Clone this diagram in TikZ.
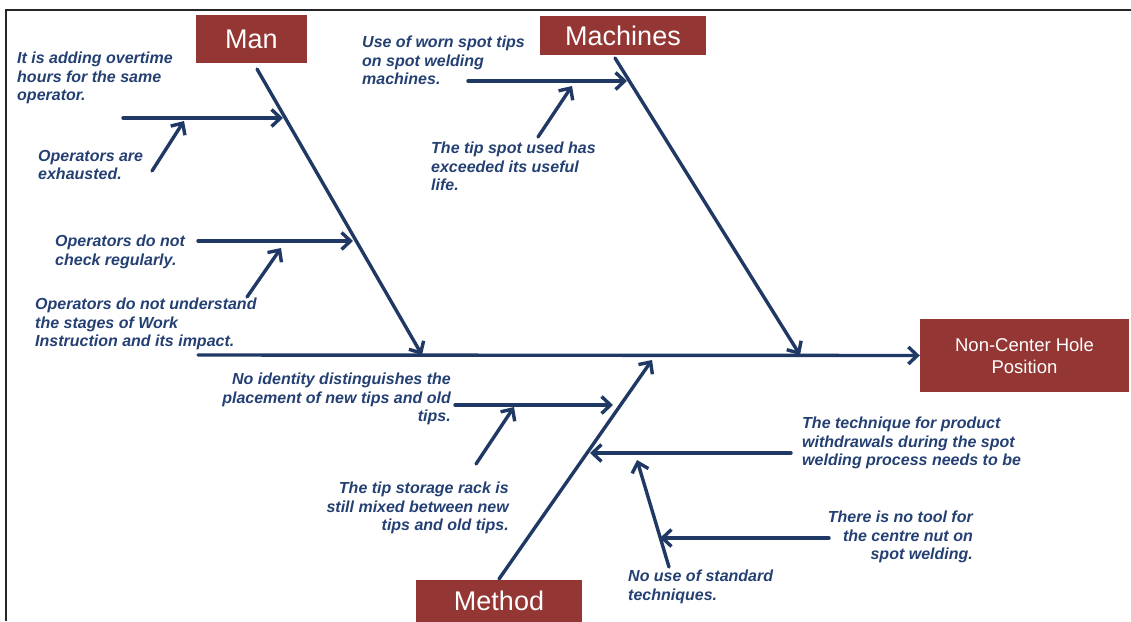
\documentclass[tikz,border=0pt]{standalone}
\usepackage{fontspec}
\setmainfont{Liberation Sans}
\usetikzlibrary{arrows.meta}
\definecolor{bonecol}{RGB}{31,56,100}
\definecolor{textcol}{RGB}{36,64,115}
\definecolor{boxred}{RGB}{148,54,52}
\begin{document}
\begin{tikzpicture}[x=1pt,y=-1pt,
  bone/.style={draw=bonecol, line width=3.4pt, line cap=round,
    -{Straight Barb[length=9pt,width=17pt]}},
  cause/.style={text=textcol, inner sep=0pt,
    font=\bfseries\itshape\fontsize{16}{18.5}\selectfont},
  catbox/.style={fill=boxred, text=white, inner sep=0pt,
    font=\fontsize{27}{30}\selectfont},
  effectbox/.style={fill=boxred, text=white, inner sep=0pt, align=center,
    font=\fontsize{18.5}{22}\selectfont},
]
\useasboundingbox (0,0) rectangle (1131,621);

% page frame
\draw[line width=2pt, black!85] (6,621) -- (6,10) -- (1131,10);

% category and effect boxes
\node[catbox, minimum width=111pt, minimum height=48pt] (man) at (251.5,39) {Man};
\node[catbox, minimum width=166pt, minimum height=39pt] (mach) at (623,35.5) {Machines};
\node[catbox, minimum width=166pt, minimum height=42pt] (meth) at (499,601) {Method};
\node[effectbox, minimum width=209pt, minimum height=73pt] (effect) at (1024.5,355.5)
  {Non-Center Hole\\Position};

% spine and main bones
\coordinate (spineL) at (198,355);
\coordinate (manTop) at (257,69);
\coordinate (manEnd) at (422,355);
\coordinate (machTop) at (615,58);
\coordinate (machEnd) at (800,355);
\coordinate (methBot) at (499,579);
\coordinate (methEnd) at (652,360);

\draw[bone] (spineL) -- (effect.west);
\draw[bone] (manTop) -- (manEnd);
\draw[bone] (machTop) -- (machEnd);
\draw[bone] (methBot) -- (methEnd);

% Man causes
\node[cause, anchor=north west, align=left] (c1) at (17,52)
  {It is adding overtime\\hours for the same\\operator.};
\node[cause, anchor=north west, align=left] (c2) at (38,150)
  {Operators are\\exhausted.};
\node[cause, anchor=north west, align=left] (c3) at (55,235)
  {Operators do not\\check regularly.};
\node[cause, anchor=north west, align=left] (c4) at (35,298)
  {Operators do not understand\\the stages of Work\\Instruction and its impact.};

\coordinate (a1s) at (123,118);  \coordinate (a1e) at (283,118);
\coordinate (a2s) at (152,171);  \coordinate (a2e) at (184,121);
\coordinate (a3s) at (198,241);  \coordinate (a3e) at (353,241);
\coordinate (a4s) at (247,297);  \coordinate (a4e) at (281,248);
\draw[bone] (a1s) -- (a1e);
\draw[bone] (a2s) -- (a2e);
\draw[bone] (a3s) -- (a3e);
\draw[bone] (a4s) -- (a4e);

% Machines causes
\node[cause, anchor=north west, align=left] (c5) at (362,36)
  {Use of worn spot tips\\on spot welding\\machines.};
\node[cause, anchor=north west, align=left] (c6) at (431,142)
  {The tip spot used has\\exceeded its useful\\life.};

\coordinate (b1s) at (468,81);  \coordinate (b1e) at (627,81);
\coordinate (b2s) at (538,137); \coordinate (b2e) at (572,86);
\draw[bone] (b1s) -- (b1e);
\draw[bone] (b2s) -- (b2e);

% Method causes
\node[cause, anchor=north east, align=right] (c7) at (451,373)
  {No identity distinguishes the\\placement of new tips and old\\tips.};
\node[cause, anchor=north east, align=right] (c8) at (509,482)
  {The tip storage rack is\\still mixed between new\\tips and old tips.};
\node[cause, anchor=north west, align=left] (c9) at (802,417)
  {The technique for product\\withdrawals during the spot\\welding process needs to be};
\node[cause, anchor=north east, align=right] (c10) at (973,511)
  {There is no tool for\\the centre nut on\\spot welding.};
\node[cause, anchor=north west, align=left] (c11) at (628,570)
  {No use of standard\\techniques.};

\coordinate (d1s) at (455,405); \coordinate (d1e) at (613,405);
\coordinate (d2s) at (476,464); \coordinate (d2e) at (514,407);
\coordinate (d3s) at (791,453); \coordinate (d3e) at (590,453);
\coordinate (d4s) at (669,567); \coordinate (d4e) at (637,460);
\coordinate (d5s) at (829,538); \coordinate (d5e) at (660,538);
\draw[bone] (d1s) -- (d1e);
\draw[bone] (d2s) -- (d2e);
\draw[bone] (d3s) -- (d3e);
\draw[bone] (d4s) -- (d4e);
\draw[bone] (d5s) -- (d5e);
\end{tikzpicture}
\end{document}
